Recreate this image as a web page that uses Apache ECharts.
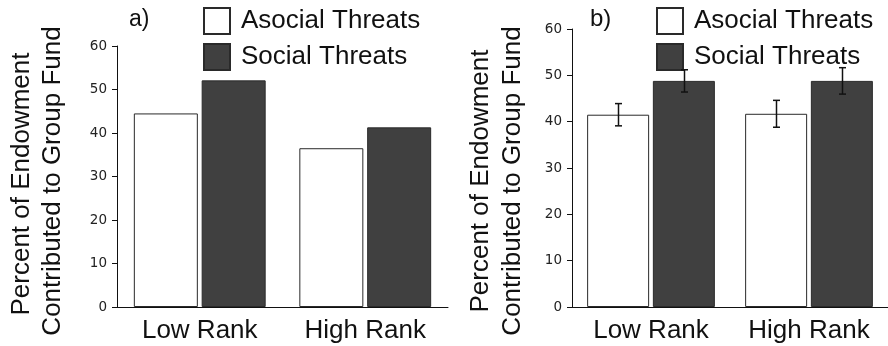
<!DOCTYPE html>
<html>
<head>
<meta charset="utf-8">
<script src="https://cdn.jsdelivr.net/npm/echarts@6/dist/echarts.min.js"></script>
<style>
html,body{margin:0;padding:0;background:#fff;}
#chart{width:888px;height:346px;}
</style>
</head>
<body>
<div id="chart"></div>
<script>
const categories = ['Low Rank', 'High Rank'];
const seriesNames = ['Asocial Threats', 'Social Threats'];
const panelLabels = ['a)', 'b)'];
const axisTitleLines = ['Percent of Endowment', 'Contributed to Group Fund'];
const yMin = 0, yMax = 60, yStep = 10;

// Panel a
const aAsocial = [44.5, 36.5];
const aSocial = [52.1, 41.3];
// Panel b
const bAsocial = [41.5, 41.7];
const bSocial = [48.8, 48.8];
const bAsocialErr = [2.4, 2.9];
const bSocialErr = [2.4, 2.85];

const FONT = '"Liberation Sans", Arial, sans-serif';
const TICKFONT = '"DejaVu Sans", sans-serif';
const DARK = '#404040';
const BORDER = '#2a2a2a';

const chart = echarts.init(document.getElementById('chart'), null, {renderer: 'canvas'});

function yAxisCfg(idx) {
  return {
    type: 'value', gridIndex: idx, min: yMin, max: yMax, interval: yStep,
    axisLine: {show: true, lineStyle: {color: '#111', width: 1}},
    axisTick: {show: true, length: 5, lineStyle: {color: '#111'}},
    axisLabel: {fontSize: 13.5, fontFamily: TICKFONT, color: '#222', margin: 10},
    splitLine: {show: false}
  };
}
function xAxisCfg(idx) {
  return {
    type: 'category', gridIndex: idx, data: categories,
    axisLine: {show: true, lineStyle: {color: '#111', width: 1}},
    axisTick: {show: false},
    axisLabel: {fontSize: 26, fontFamily: FONT, color: '#111', margin: 11}
  };
}
function legendCfg(left) {
  return {
    left: left, top: 7, padding: 0, orient: 'vertical', icon: 'rect',
    itemWidth: 26, itemHeight: 26, itemGap: 8, selectedMode: false,
    data: seriesNames,
    textStyle: {fontSize: 26, fontFamily: FONT, color: '#111', padding: [4, 0, 0, 6]}
  };
}
const whiteStyle = {color: '#ffffff', borderColor: BORDER, borderWidth: 1};
const darkStyle = {color: DARK, borderColor: BORDER, borderWidth: 1};

const BW_B = 62, GAP_B = 0.06;
const offB = (BW_B + BW_B * GAP_B) / 2;

function errData(vals, errs) {
  return vals.map((v, i) => [i, v - errs[i], v + errs[i]]);
}
function errRender(offset) {
  return function (params, api) {
    const lo = api.coord([api.value(0), api.value(1)]);
    const hi = api.coord([api.value(0), api.value(2)]);
    const x = Math.round(lo[0] + offset) + 0.5;
    const cap = 3.5;
    const st = {stroke: '#111', lineWidth: 1.5};
    return {
      type: 'group',
      children: [
        {type: 'line', shape: {x1: x, y1: lo[1], x2: x, y2: hi[1]}, style: st},
        {type: 'line', shape: {x1: x - cap, y1: lo[1], x2: x + cap, y2: lo[1]}, style: st},
        {type: 'line', shape: {x1: x - cap, y1: hi[1], x2: x + cap, y2: hi[1]}, style: st}
      ]
    };
  };
}

function vtext(x, y, text) {
  return {
    type: 'text', x: x, y: y, rotation: Math.PI / 2,
    style: {text: text, fontSize: 26, fontFamily: FONT, fill: '#111', align: 'center', verticalAlign: 'middle'}
  };
}

const option = {
  animation: false,
  backgroundColor: '#ffffff',
  grid: [
    {left: 117, top: 46, width: 331, height: 261},
    {left: 572, top: 29, width: 322, height: 278}
  ],
  xAxis: [xAxisCfg(0), xAxisCfg(1)],
  yAxis: [yAxisCfg(0), yAxisCfg(1)],
  legend: [legendCfg(203), legendCfg(656)],
  graphic: [
    vtext(22, 184, axisTitleLines[0]),
    vtext(53, 181, axisTitleLines[1]),
    vtext(481, 181, axisTitleLines[0]),
    vtext(513, 181, axisTitleLines[1]),
    {type: 'text', x: 129, y: 8, style: {text: panelLabels[0], fontSize: 23, fontFamily: FONT, fill: '#111'}},
    {type: 'text', x: 590, y: 7, style: {text: panelLabels[1], fontSize: 24, fontFamily: FONT, fill: '#111'}}
  ],
  series: [
    {name: seriesNames[0], type: 'bar', xAxisIndex: 0, yAxisIndex: 0, data: aAsocial,
     barWidth: 64, barGap: '6%', itemStyle: whiteStyle},
    {name: seriesNames[1], type: 'bar', xAxisIndex: 0, yAxisIndex: 0, data: aSocial,
     barWidth: 64, barGap: '6%', itemStyle: darkStyle},
    {name: seriesNames[0], type: 'bar', xAxisIndex: 1, yAxisIndex: 1, data: bAsocial,
     barWidth: BW_B, barGap: '6%', itemStyle: whiteStyle},
    {name: seriesNames[1], type: 'bar', xAxisIndex: 1, yAxisIndex: 1, data: bSocial,
     barWidth: BW_B, barGap: '6%', itemStyle: darkStyle},
    {name: 'err-asocial', type: 'custom', xAxisIndex: 1, yAxisIndex: 1,
     data: errData(bAsocial, bAsocialErr), encode: {x: 0, y: [1, 2]},
     renderItem: errRender(-offB), z: 10},
    {name: 'err-social', type: 'custom', xAxisIndex: 1, yAxisIndex: 1,
     data: errData(bSocial, bSocialErr), encode: {x: 0, y: [1, 2]},
     renderItem: errRender(offB), z: 10}
  ]
};
chart.setOption(option);
</script>
</body>
</html>
